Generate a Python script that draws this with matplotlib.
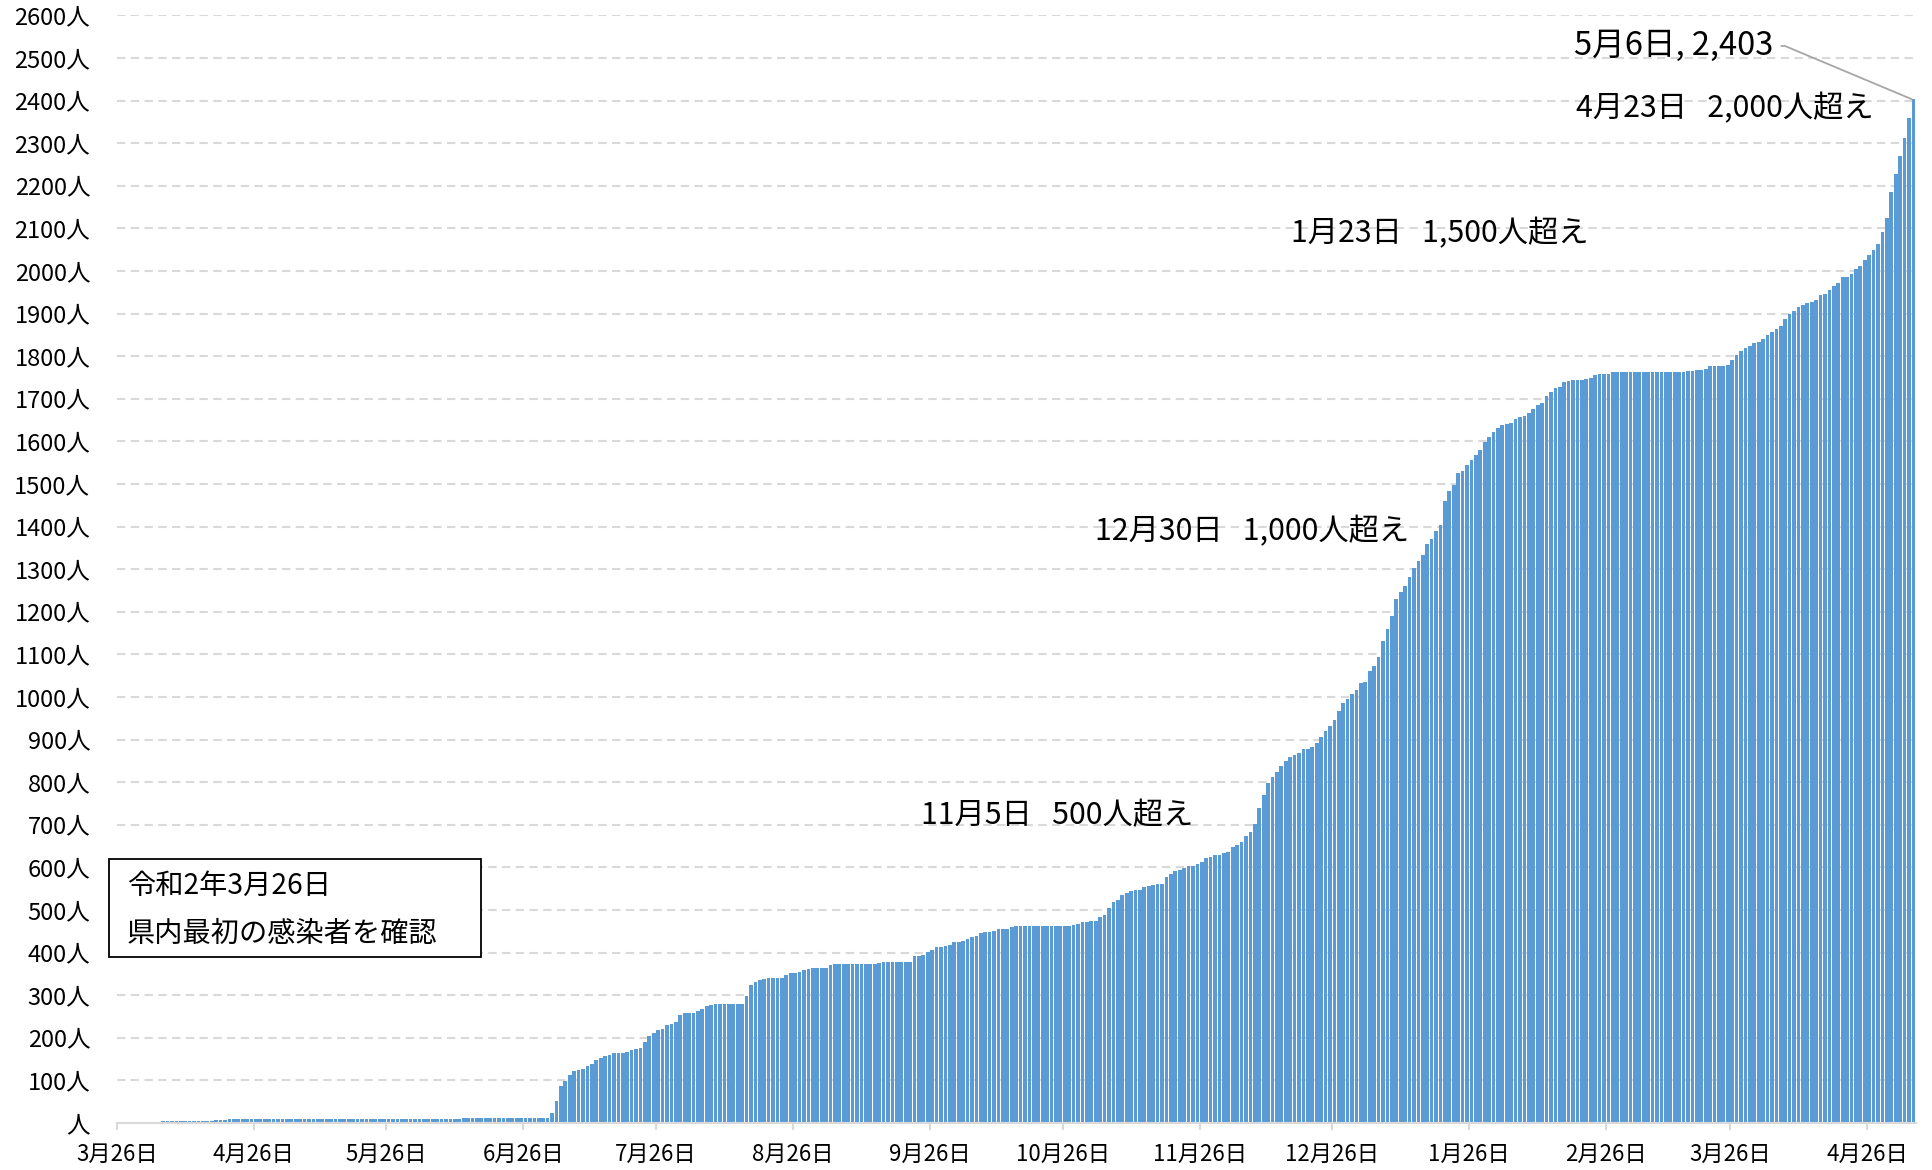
import numpy as np
import matplotlib
matplotlib.use("Agg")
import matplotlib.pyplot as plt
from matplotlib.patches import Rectangle

plt.rcParams['font.family'] = ['Noto Sans CJK JP', 'DejaVu Sans']

# ---- data: cumulative cases per day, 2020-03-26 .. 2021-05-06 ----
mar_2020 = [1, 1, 1, 1, 1, 1]
apr_2020 = [1, 3, 3, 3, 4, 4, 4, 4, 4, 4, 5, 5, 5, 5, 5, 5, 7, 7, 8,
            10, 10, 10, 10, 10, 10, 10, 10, 10, 10, 10]
may_2020 = [10] * 31
jun_2020 = [10, 10, 10, 10, 10, 10, 10, 10, 10, 10, 10,
            11, 11, 11, 11, 11, 11, 11, 11, 11, 11, 11, 11, 11, 11, 11, 11,
            12, 12, 12]
jul_2020 = [12, 23, 52, 87, 99, 112, 121, 124, 126, 134, 139, 147, 152, 157,
            160, 164, 164, 165, 166, 172, 174, 176, 190, 204, 212, 218, 221,
            229, 233, 238, 253]
aug_2020 = [258, 258, 258, 264, 267, 274, 276, 279, 279, 279, 279, 279, 279,
            279, 298, 325, 330, 336, 338, 341, 341, 341, 341, 348, 351, 352,
            355, 359, 362, 363, 364]
sep_2020 = [364, 364, 370, 373, 373, 373, 373, 373, 373, 373, 373, 373, 373,
            376, 378, 378, 378, 378, 378, 378, 378, 391, 391, 395, 402, 406,
            412, 413, 415, 417]
oct_2020 = [424, 425, 427, 431, 436, 440, 445, 449, 449, 450, 456, 456, 456,
            460, 462, 463, 463, 463, 463, 463, 463, 463, 463, 463, 463, 463,
            463, 464, 468, 471, 471]
nov_2020 = [475, 475, 483, 489, 504, 518, 524, 536, 540, 544, 548, 548, 554,
            556, 558, 560, 561, 577, 584, 591, 595, 598, 603, 603, 607, 612,
            622, 624, 629, 630]
dec_2020 = [634, 637, 647, 653, 659, 673, 684, 701, 740, 771, 797, 812, 825,
            838, 849, 859, 864, 869, 877, 879, 882, 891, 906, 921, 931, 947,
            967, 985, 995, 1007, 1017]
jan_2021 = [1032, 1035, 1061, 1073, 1095, 1132, 1159, 1191, 1230, 1246, 1261,
            1281, 1302, 1320, 1333, 1359, 1372, 1389, 1403, 1461, 1484, 1498,
            1525, 1530, 1544, 1557, 1567, 1580, 1599, 1610, 1623]
feb_2021 = [1632, 1638, 1641, 1644, 1653, 1657, 1660, 1667, 1676, 1686, 1690,
            1706, 1716, 1725, 1727, 1739, 1741, 1743, 1744, 1745, 1746, 1748,
            1755, 1758, 1758, 1759, 1762, 1762]
mar_2021 = [1763] * 14 + [1764, 1765, 1766, 1767, 1767, 1769, 1776, 1776,
                          1776, 1778, 1780, 1791, 1802, 1813, 1819, 1824, 1832]
apr_2021 = [1833, 1840, 1849, 1856, 1864, 1872, 1888, 1898, 1907, 1915, 1920,
            1924, 1928, 1931, 1944, 1947, 1955, 1965, 1972, 1985, 1987, 1994,
            2005, 2012, 2025, 2038, 2049, 2064, 2092, 2125]
may_2021 = [2185, 2227, 2271, 2312, 2359, 2403]

tick_days = [0, 31, 61, 92, 122, 153, 184, 214, 245, 275, 306, 337, 365, 396]
tick_labels = ['3月26日', '4月26日', '5月26日', '6月26日', '7月26日', '8月26日',
               '9月26日', '10月26日', '11月26日', '12月26日', '1月26日',
               '2月26日', '3月26日', '4月26日']
y_ticks = list(range(0, 2700, 100))
y_labels = ['人' if v == 0 else f'{v}人' for v in y_ticks]

milestones = ['11月5日   500人超え', '12月30日   1,000人超え',
              '1月23日   1,500人超え', '4月23日   2,000人超え']
last_label = '5月6日, 2,403'
box_lines = ['令和2年3月26日', '県内最初の感染者を確認']

# ---- figure ----
W, H = 1932, 1170
fig = plt.figure(figsize=(W / 100, H / 100), dpi=100)

def fx(x):
    return x / W

def fy(y):
    return 1 - y / H

ax_left, ax_right, ax_bottom, ax_top = 116.7, 1915.6, 1123, 15.4
ax = fig.add_axes([fx(ax_left), fy(ax_bottom), (ax_right - ax_left) / W,
                   (ax_bottom - ax_top) / H])

values = np.array(mar_2020 + apr_2020 + may_2020 + jun_2020 + jul_2020 +
                  aug_2020 + sep_2020 + oct_2020 + nov_2020 + dec_2020 +
                  jan_2021 + feb_2021 + mar_2021 + apr_2021 + may_2021)
days = np.arange(len(values))

ax.bar(days + 0.5, values, width=0.84, color='#5B9BD5', linewidth=0, zorder=2)
ax.set_xlim(0, len(values))
ax.set_ylim(0, 2600)

ax.set_yticks(y_ticks)
ax.set_yticklabels(y_labels, fontsize=17)
ax.tick_params(axis='y', length=0, pad=19)
ax.yaxis.grid(True, color='#D9D9D9', linestyle=(0, (4, 2.6)), linewidth=1.5,
              zorder=0)
ax.set_axisbelow(True)

ax.set_xticks(tick_days)
ax.set_xticklabels(tick_labels, fontsize=16)
ax.tick_params(axis='x', length=5, width=1.5, color='#D9D9D9', pad=9)

for s in ['top', 'right', 'left']:
    ax.spines[s].set_visible(False)
ax.spines['bottom'].set_color('#D9D9D9')
ax.spines['bottom'].set_linewidth(1.5)

# milestone texts
ms_pos = [(921, 816), (1095, 532), (1291, 234), (1576, 109)]
for txt, (px, py) in zip(milestones, ms_pos):
    fig.text(fx(px), fy(py), txt, fontsize=21.8, ha='left', va='center')

# final data label with leader line
ax.annotate(last_label, xy=(days[-1] + 0.2, values[-1]), xycoords='data',
            xytext=(fx(1773), fy(46)), textcoords='figure fraction',
            ha='right', va='center', fontsize=23.5,
            arrowprops=dict(arrowstyle='-', color='#A6A6A6', lw=1.3,
                            shrinkA=4, shrinkB=0, relpos=(1, 0.5),
                            connectionstyle='arc,angleA=0,armA=12,angleB=0,armB=0,rad=0'))

# text box
rect = Rectangle((fx(109), fy(957)), (481 - 109) / W, (957 - 859) / H,
                 transform=fig.transFigure, facecolor='white',
                 edgecolor='black', linewidth=1.3, zorder=5)
fig.patches.append(rect)
fig.text(fx(127), fy(886), box_lines[0], fontsize=20.3, ha='left', va='center',
         zorder=6)
fig.text(fx(127), fy(934), box_lines[1], fontsize=20.3, ha='left', va='center',
         zorder=6)

fig.savefig('out.png', dpi=100)
